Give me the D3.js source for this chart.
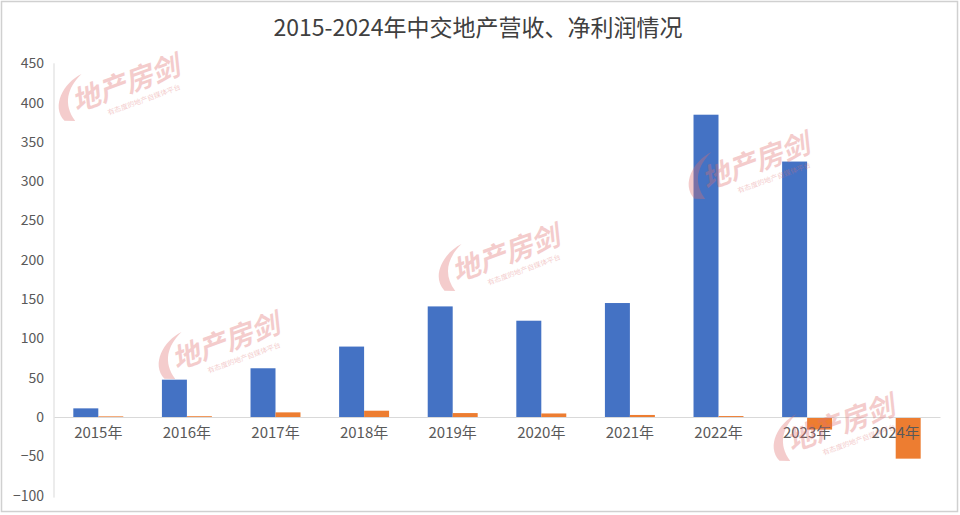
<!DOCTYPE html>
<html>
<head>
<meta charset="utf-8">
<script src="https://cdn.jsdelivr.net/npm/d3@7/dist/d3.min.js"></script>
<style>
  html, body { margin: 0; padding: 0; background: #fff; }
  svg { display: block; }
  text { font-family: "Noto Sans CJK SC", "Noto Sans", sans-serif; }
</style>
</head>
<body>
<svg id="chart" width="960" height="515"></svg>
<script>
const title = "2015-2024年中交地产营收、净利润情况";
const categories = ["2015年","2016年","2017年","2018年","2019年","2020年","2021年","2022年","2023年","2024年"];
const seriesNames = ["营收", "净利润"];
const revenue = [11, 47.5, 62, 89.6, 140.7, 122.5, 145, 384.6, 325, 0];
const netProfit = [0.8, 1, 5.9, 8, 5, 4.5, 2.6, 1.2, -16, -53];
const yTicks = [-100, -50, 0, 50, 100, 150, 200, 250, 300, 350, 400, 450];
const colors = ["#4472C4", "#ED7D31"];

const svg = d3.select("#chart");

// frame
svg.append("rect").attr("x", 1.5).attr("y", 1.5).attr("width", 956).attr("height", 510)
  .attr("fill", "#fff").attr("stroke", "#d0d0d0").attr("stroke-width", 1.5);

const plot = { left: 54, right: 940, top: 63.3, bottom: 495.6 };

const y = d3.scaleLinear().domain([-100, 450]).range([plot.bottom, plot.top]);
const pad = 0.436;
const x0 = d3.scaleBand().domain(categories).range([plot.left, plot.right])
  .paddingInner(pad).paddingOuter(pad / 2);
const x1 = d3.scaleBand().domain(seriesNames).range([0, x0.bandwidth()]);

// y axis
const yAxis = d3.axisLeft(y).tickValues(yTicks).tickSize(0).tickPadding(10);
const gy = svg.append("g").attr("transform", `translate(${plot.left},0)`).call(yAxis);
gy.select(".domain").attr("stroke", "#d9d9d9").attr("d", `M0,${plot.top}V${plot.bottom + 2}`);
gy.selectAll("text").attr("font-size", 14).attr("fill", "#595959")
  .attr("font-family", '"Noto Sans", "Noto Sans CJK SC", sans-serif');

// bars
const data = categories.map((c, i) => ({ cat: c, values: [revenue[i], netProfit[i]] }));
const groups = svg.append("g").selectAll("g").data(data).join("g")
  .attr("transform", d => `translate(${x0(d.cat)},0)`);
groups.selectAll("rect").data(d => d.values.map((v, j) => ({ v, j })))
  .join("rect")
  .attr("x", d => x1(seriesNames[d.j]))
  .attr("width", x1.bandwidth())
  .attr("y", d => y(Math.max(0, d.v)))
  .attr("height", d => Math.abs(y(d.v) - y(0)))
  .attr("fill", d => colors[d.j]);

// x axis (zero line)
const xAxis = d3.axisBottom(x0).tickSize(0).tickPadding(10);
const gx = svg.append("g").attr("transform", `translate(0,${y(0)})`).call(xAxis);
gx.select(".domain").attr("stroke", "#d9d9d9");
gx.selectAll("text").attr("font-size", 15).attr("fill", "#595959");

// title
svg.append("text").attr("x", 478).attr("y", 36).attr("text-anchor", "middle")
  .attr("font-size", 23).attr("fill", "#404040").text(title);

// watermarks (drawn over the chart, semi-transparent)
const wm = svg.append("g").attr("pointer-events", "none");
const wmSpots = [[120, 92], [750, 170], [500, 262], [220, 350], [835, 432]];
wmSpots.forEach(([cx, cy]) => {
  const g = wm.append("g").attr("transform", `translate(${cx},${cy}) rotate(-20)`).attr("opacity", 0.35);
  g.append("path")
    .attr("d", "M-62,8 C-70,-10 -50,-28 -30,-30 C-48,-22 -58,-8 -52,12 Z")
    .attr("fill", "#e07070");
  g.append("text").attr("x", 8).attr("y", 4).attr("text-anchor", "middle")
    .attr("font-size", 28).attr("font-weight", 700).attr("font-style", "italic")
    .attr("fill", "#e07070").text("地产房剑");
  g.append("text").attr("x", 20).attr("y", 18).attr("text-anchor", "middle")
    .attr("font-size", 7).attr("fill", "#e07070").text("有态度的地产自媒体平台");
});
</script>
</body>
</html>
